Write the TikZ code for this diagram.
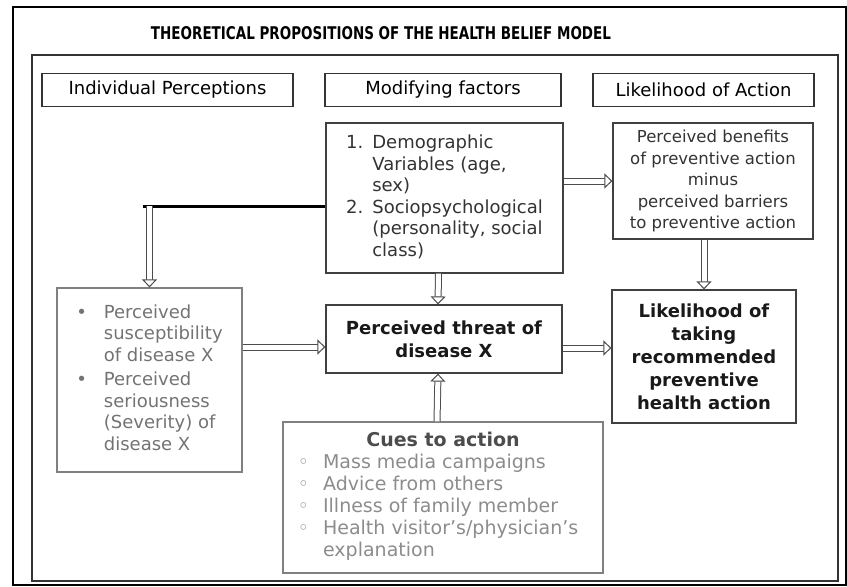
\documentclass[tikz,border=0pt]{standalone}
\usepackage{fontspec}
\setmainfont{DejaVu Sans}
\usepackage{array}
\usetikzlibrary{arrows.meta}
\tikzset{
  frm/.style={draw=black,line width=2.6pt},
  ifrm/.style={draw=black!80,line width=1.3pt},
  ttl/.style={font=\bfseries\fontsize{19}{22}\selectfont},
  hdr/.style={rectangle,draw=black!80,line width=1.2pt,minimum height=33pt,inner sep=0pt,font=\fontsize{18}{20}\selectfont},
  bx/.style={rectangle,draw=black!75,line width=1.2pt,inner sep=0pt,text=black!80,font=\fontsize{18}{21.5}\selectfont},
  bxl/.style={bx,draw=black!50,text=black!55},
  bxb/.style={bx,text=black!90,font=\bfseries\fontsize{18}{23}\selectfont},
  dar/.style={draw=black!70,line width=1pt,double=white,double distance=5pt,
    -{Triangle[open,fill=white,length=8pt,width=15pt,line width=1pt]}},
  thk/.style={draw=black,line width=3pt},
}
\begin{document}
\begin{tikzpicture}[x=1pt,y=-1pt]
\useasboundingbox (0,0) rectangle (847,587);
% ---------------- frames and title
\draw[frm] (13,7) rectangle (846,585);
\draw[ifrm] (32,55) rectangle (838,581);
\node[ttl] (ttl) at (381,33)
  {\resizebox{460pt}{13pt}{THEORETICAL PROPOSITIONS OF THE HEALTH BELIEF MODEL}};
% ---------------- column heads
\node[hdr,minimum width=251pt] (hInd) at (167.5,90) {Individual Perceptions};
\node[hdr,minimum width=236pt] (hMod) at (443,90) {Modifying factors};
\node[hdr,minimum width=221pt] (hAct) at (703.5,90) {Likelihood of Action};
% ---------------- boxes
\node[bx,minimum width=237pt,minimum height=150pt] (mod) at (444.5,198)
  {\begin{tabular}{@{}l@{\hspace{9pt}}l@{}}
   1.&Demographic\\ &Variables (age,\\ &sex)\\
   2.&Sociopsychological\\ &(personality, social\\ &class)
   \end{tabular}};
\node[bx,minimum width=200pt,minimum height=116pt,align=center,
  font=\fontsize{16.5}{21.5}\selectfont] (ben) at (713,181)
  {Perceived benefits\\of preventive action\\minus\\perceived barriers\\to preventive action};
\node[bxl,minimum width=185pt,minimum height=184pt] (perc) at (149.5,380)
  {\begin{tabular}{@{}c@{\hspace{17pt}}l@{}}
   \textbullet&Perceived\\ &susceptibility\\ &of disease X\\[3pt]
   \textbullet&Perceived\\ &seriousness\\ &(Severity) of\\ &disease X
   \end{tabular}};
\node[bxb,minimum width=236pt,minimum height=68pt,align=center] (thr) at (444,339)
  {Perceived threat of\\disease X};
\node[bxb,minimum width=184pt,minimum height=133pt,align=center] (act) at (704,356.5)
  {Likelihood of\\taking\\recommended\\preventive\\health action};
\node[bxl,minimum width=320pt,minimum height=151pt,text=black!45,
  font=\fontsize{19}{22}\selectfont] (cue) at (443,497.5)
  {\begin{tabular}{@{}c@{\hspace{14pt}}p{265pt}@{}}
   \multicolumn{2}{c}{\bfseries\color{black!70}Cues to action}\\
   ◦&Mass media campaigns\\ ◦&Advice from others\\
   ◦&Illness of family member\\ ◦&Health visitor's/physician's\\ &explanation
   \end{tabular}};
% ---------------- links
\coordinate (jn) at (143,206);
\coordinate (jd) at (perc.north |- jn);
\coordinate (tl) at ([yshift=-8pt]thr.west);
\coordinate (tr) at ([yshift=-9pt]thr.east);
\draw[thk] (jn) -- (mod.west |- jn);
\draw[dar] (jd) -- (perc.north);
\draw[dar] (mod.east |- ben.west) -- (ben.west);
\draw[dar] (act.north |- ben.south) -- (act.north);
\draw[dar] ([xshift=-6pt]mod.south) -- ([xshift=-6pt]thr.north);
\draw[dar] (perc.east |- tl) -- (tl);
\draw[dar] (tr) -- (act.west |- tr);
\draw[dar] ([xshift=-6pt]cue.north) -- ([xshift=-6pt]thr.south);
\end{tikzpicture}
\end{document}
